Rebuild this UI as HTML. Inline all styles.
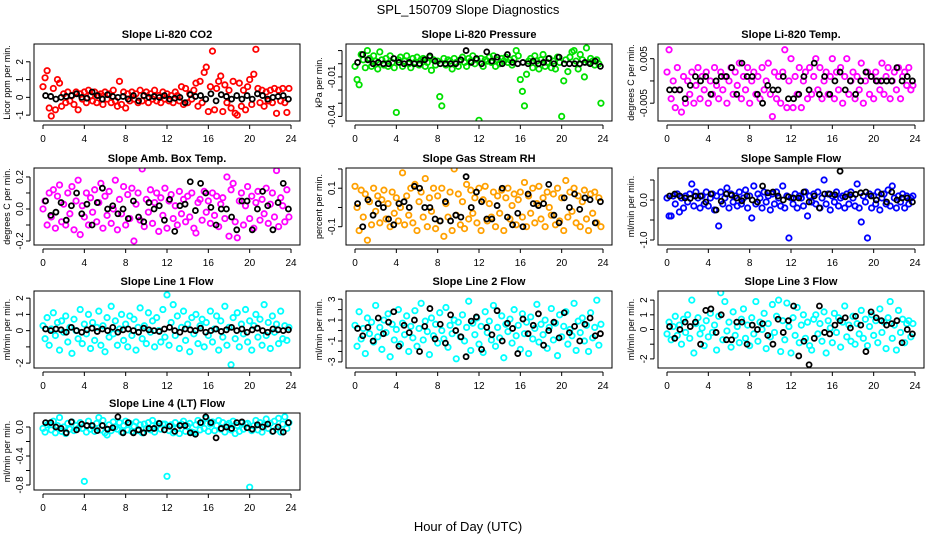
<!DOCTYPE html>
<html><head><meta charset="utf-8">
<style>
html,body{margin:0;padding:0;background:#fff;}
svg{display:block;font-family:"Liberation Sans",Arial,sans-serif;}
</style></head>
<body>
<svg id="chart" width="936" height="540" viewBox="0 0 936 540" xmlns="http://www.w3.org/2000/svg">
<text x="468" y="14" text-anchor="middle" font-size="13">SPL_150709  Slope Diagnostics</text>
<text x="468" y="531" text-anchor="middle" font-size="13">Hour of Day (UTC)</text>
<g id="panels"></g>
</svg>
<script>
const hourTicks = [0,4,8,12,16,20,24];
const panelTitles = ["Slope Li-820 CO2","Slope Li-820 Pressure","Slope Li-820 Temp.","Slope Amb. Box Temp.","Slope Gas Stream RH","Slope Sample Flow","Slope Line 1 Flow","Slope Line 2 Flow","Slope Line 3 Flow","Slope Line 4 (LT) Flow"];
const yLabels = ["Licor ppm per min.","kPa per min.","degrees C per min.","degrees C per min.","percent per min.","ml/min per min.","ml/min per min.","ml/min per min.","ml/min per min.","ml/min per min."];
const yTicks = [[-1,0,1,2],[0.01,0,-0.01,-0.02,-0.03,-0.04],[0.005,0,-0.005],[-0.2,-0.1,0,0.1,0.2],[-0.1,0,0.1,0.2],[0.5,0,-0.5,-1],[-2,-1,0,1,2],[-3,-2,-1,0,1,2,3],[-2,-1,0,1,2],[0,-0.2,-0.4,-0.6,-0.8]];
const yTickLabels = [["-1","0","1","2"],["","","-0.01","","","-0.04"],["0.005","","-0.005"],["-0.2","","0.0","","0.2"],["-0.1","","0.1",""],["","0.0","","-1.0"],["-2","","0","1","2"],["-3","","-1","","1","","3"],["-2","","0","1","2"],["0.0","","-0.4","","-0.8"]];
const yLimits = [[-1.33,3.0],[-0.0435,0.015],[-0.009,0.0083],[-0.225,0.256],[-0.195,0.205],[-1.125,0.8],[-2.3,2.44],[-3.58,3.78],[-2.62,2.62],[-0.869,0.193]];
const seriesColors = ["#ff0000","#00e000","#ff00ff","#ff00ff","#ffa000","#0000ff","#00ffff","#00ffff","#00ffff","#00ffff"];

const colored = [
[0.6,1.1,1.5,-0.6,-1.05,0.5,-0.7,1.0,0.8,-0.5,0.2,-0.3,0.3,-0.2,0.1,-0.4,0.3,-0.7,0.2,-0.1,0.3,-0.3,0.4,0.1,-0.2,0.3,-0.3,0.1,0.2,-0.4,0.3,-0.1,0.2,-0.3,0.4,-0.2,-0.5,0.9,-0.4,0.3,-0.6,0.2,-0.2,0.3,-0.1,0.2,-0.3,0.4,-0.2,0.1,0.3,-0.3,0.2,-0.1,0.4,-0.2,0.1,-0.3,0.3,-0.1,0.2,-0.2,0.1,-0.3,0.3,0.1,-0.2,0.6,-0.4,0.5,-0.3,0.2,-0.1,0.4,0.8,-0.5,0.9,-0.3,1.4,1.7,-0.8,0.6,2.6,-0.7,0.5,0.9,1.2,-0.8,0.7,-0.3,0.4,-0.6,0.9,-0.9,-1.0,0.8,-0.5,0.4,-0.7,0.6,1.0,-0.4,1.3,2.7,0.5,-0.3,0.4,-0.5,0.3,-0.2,0.4,-0.3,0.5,-0.9,0.4,-0.2,0.5,-0.3,-0.85,0.5],
[-0.002,-0.012,-0.016,0.007,0.003,-0.003,0.010,0.004,-0.002,0.006,0.002,-0.004,0.009,0.003,-0.001,0.004,-0.002,0.006,0.001,-0.003,-0.037,0.003,0.005,-0.002,0.002,0.006,0.000,-0.003,0.004,0.001,0.005,-0.001,0.003,0.004,-0.002,0.001,0.005,-0.005,0.003,-0.001,0.002,-0.025,-0.032,0.004,-0.001,0.003,0.002,-0.004,0.004,0.001,-0.002,0.003,0.005,0.001,-0.002,0.004,0.002,0.006,0.000,0.003,-0.043,0.004,-0.002,0.003,0.002,0.005,0.001,0.006,-0.002,0.003,0.000,0.004,0.002,0.005,0.001,0.003,-0.001,0.004,0.010,0.006,-0.012,-0.021,-0.032,-0.008,0.002,0.004,-0.003,0.006,0.002,-0.004,0.003,0.007,-0.002,0.001,0.004,-0.003,0.002,-0.004,0.005,0.001,-0.040,-0.013,0.003,-0.006,0.005,0.009,0.010,0.002,-0.004,0.007,0.003,-0.010,0.012,0.001,0.004,0.002,-0.001,0.003,0.000,-0.030],
[0.002,0.007,-0.004,0.000,-0.006,0.003,-0.002,-0.007,0.001,-0.005,0.000,-0.003,0.002,-0.005,-0.001,0.003,-0.004,0.001,-0.002,0.002,-0.005,0.000,-0.003,0.003,-0.001,-0.004,0.002,-0.002,0.001,-0.005,0.000,0.003,-0.003,0.002,-0.001,0.004,-0.004,0.001,-0.002,0.003,-0.005,0.000,0.002,-0.003,0.001,-0.004,0.003,-0.002,0.000,0.004,-0.003,-0.008,0.002,-0.004,0.001,-0.005,0.002,0.007,-0.006,0.000,0.005,-0.006,0.001,-0.003,0.003,-0.006,0.000,0.002,-0.004,0.003,-0.003,0.001,0.005,-0.002,0.003,-0.004,0.000,0.002,-0.003,0.001,0.005,-0.004,0.002,-0.002,0.003,-0.005,0.001,0.005,-0.003,0.000,0.002,-0.004,0.001,-0.002,0.004,-0.005,0.000,0.002,-0.003,0.001,-0.004,0.002,0.000,-0.002,0.004,-0.003,0.001,0.003,-0.004,0.000,0.002,-0.002,0.003,-0.004,0.001,0.002,-0.001,0.003,-0.002,-0.001],
[0.0,0.05,-0.1,0.1,-0.05,0.12,-0.12,0.08,0.15,-0.08,0.03,-0.1,0.1,-0.03,0.14,-0.13,0.05,0.18,-0.16,0.02,-0.05,0.1,-0.1,0.07,-0.02,0.12,-0.08,0.04,0.16,-0.12,0.08,-0.04,0.11,-0.09,0.0,0.18,-0.13,0.06,-0.03,0.14,-0.1,0.09,-0.06,0.13,-0.2,0.03,0.1,-0.07,0.25,-0.11,0.06,-0.02,0.12,-0.09,0.04,0.1,-0.14,0.07,-0.04,0.13,-0.12,0.05,0.09,-0.06,0.02,-0.1,0.11,-0.03,0.06,-0.08,0.08,-0.05,0.1,-0.12,-0.15,0.04,0.06,-0.07,0.11,-0.02,0.05,-0.09,0.1,-0.04,0.08,-0.11,0.03,0.07,-0.06,0.2,-0.17,0.12,0.16,-0.08,-0.18,0.05,0.1,-0.1,0.02,0.14,-0.06,0.08,-0.12,0.04,0.11,-0.07,0.06,-0.03,0.13,-0.09,0.03,0.1,-0.05,0.24,-0.11,0.07,0.02,-0.08,0.12,-0.05],
[0.11,0.0,-0.12,0.09,-0.05,0.07,-0.17,0.03,-0.09,0.1,-0.02,0.06,-0.08,0.04,0.09,-0.06,0.02,-0.1,0.08,-0.03,0.05,-0.07,0.0,0.18,-0.09,0.06,-0.04,0.1,-0.08,0.12,-0.12,0.03,0.08,-0.05,0.15,-0.1,0.05,-0.02,0.1,-0.11,0.06,-0.07,0.1,-0.15,0.02,-0.05,0.08,-0.12,0.2,-0.04,0.07,-0.09,0.03,-0.11,0.12,-0.06,0.09,-0.03,0.05,-0.08,0.1,-0.12,0.04,0.11,-0.07,0.02,-0.05,0.08,-0.1,0.06,-0.03,0.09,-0.12,0.05,0.1,-0.06,0.01,0.07,-0.09,0.04,0.08,-0.05,0.13,-0.1,0.06,-0.03,0.1,-0.08,0.02,0.11,-0.06,0.05,-0.1,0.08,0.0,-0.04,0.07,-0.09,0.1,-0.07,0.05,-0.12,0.14,-0.05,0.08,-0.02,0.1,-0.08,0.06,-0.1,0.03,0.09,-0.06,-0.12,0.07,-0.03,0.08,-0.08,0.05,-0.1],
[0.05,-0.4,-0.4,0.1,-0.1,0.15,-0.3,0.05,-0.2,0.1,-0.05,0.15,0.4,-0.15,0.2,0.05,-0.2,0.1,-0.1,0.2,-0.15,0.05,0.15,-0.25,0.1,-0.65,0.2,-0.1,0.05,0.3,-0.2,0.15,-0.05,0.1,-0.15,0.2,-0.1,0.05,0.25,-0.2,0.1,-0.45,0.35,-0.1,0.15,0.05,-0.2,0.2,-0.05,0.1,-0.25,0.15,-0.1,0.2,0.05,-0.15,0.35,-0.2,0.1,-0.95,0.05,-0.1,0.15,-0.2,0.1,0.05,-0.15,0.2,-0.4,0.1,-0.05,0.15,-0.1,0.2,-0.2,0.05,0.5,-0.1,0.15,-0.25,0.1,-0.05,0.2,-0.15,0.05,0.1,-0.2,0.15,-0.1,0.2,0.05,-0.15,0.4,-0.2,-0.55,0.1,-0.05,-0.95,0.15,-0.2,0.1,-0.1,0.2,-0.25,0.05,0.15,-0.1,0.25,-0.15,0.35,0.05,-0.2,0.1,-0.05,0.15,-0.2,0.1,-0.1,0.05,0.1],
[0.3,-0.5,0.8,-0.9,0.1,1.1,-0.3,0.5,-1.2,0.6,-0.1,0.9,-0.7,0.2,-1.4,0.7,0.0,-0.5,1.3,-0.8,0.4,-0.2,1.0,-1.1,0.5,-0.6,0.2,1.2,-0.9,0.3,-1.3,0.8,-0.4,1.5,-0.2,0.6,-0.9,0.1,1.0,-0.6,0.4,-1.0,0.9,-0.3,0.7,-1.2,0.2,1.4,-0.5,0.3,-0.8,1.1,-0.1,0.6,-1.0,0.8,0.0,-0.7,1.3,-0.4,2.2,-0.9,0.5,1.6,-0.3,0.9,-1.1,0.2,1.2,-0.6,0.4,-1.3,0.8,-0.2,1.0,-0.8,0.3,0.7,-1.0,0.5,-0.3,1.2,-0.7,0.1,0.9,-1.2,0.6,-0.4,1.5,-0.9,0.2,-2.1,0.8,-0.5,1.1,-1.0,0.4,-0.2,1.3,-0.7,0.6,-1.2,0.3,1.0,-0.4,0.7,-0.9,1.6,-0.3,0.5,-1.1,0.9,-0.1,0.4,-0.8,1.2,-0.5,0.3,-0.6,0.2],
[0.5,-1.5,1.8,-0.8,0.2,-2.2,1.2,-0.3,0.8,-1.1,2.4,-0.6,0.3,-1.8,1.0,-0.2,1.6,-2.5,0.6,-0.9,0.1,2.0,-1.3,0.7,-0.4,1.4,-2.0,0.4,-0.7,1.9,-1.5,0.2,2.6,-0.9,0.9,-0.1,-2.3,1.2,-0.5,0.6,-1.2,1.7,0.0,-0.8,2.2,-1.6,0.5,-0.3,1.0,-2.7,0.8,-0.6,1.5,-1.0,0.3,2.8,-1.9,0.7,-0.4,1.2,-1.3,0.4,-2.1,1.8,-0.2,0.9,-0.9,2.4,-1.5,0.3,-0.7,1.4,-2.6,0.6,-0.1,1.1,-1.2,2.0,-0.5,0.5,-1.8,1.6,-0.3,0.8,-2.2,1.3,-0.8,0.2,2.5,-1.1,0.6,-0.4,1.0,-1.7,0.3,2.1,-0.9,0.7,-2.4,1.5,-0.6,0.4,1.8,-1.3,0.1,-0.5,2.6,-1.9,0.9,-0.2,1.2,-1.0,0.5,-2.0,1.7,-0.7,0.3,2.9,-1.4,0.6],
[-0.3,0.5,-0.7,0.2,0.9,-0.4,0.3,-1.0,0.7,-0.2,1.0,-0.6,2.0,-1.6,0.4,0.8,-0.3,0.1,-1.1,0.6,-0.5,1.1,-0.2,0.3,-1.4,0.9,2.5,-0.7,1.9,-0.1,0.5,-1.2,1.2,-0.4,0.2,-0.9,0.7,1.4,-0.6,0.3,-1.1,0.8,-0.3,1.9,-0.8,0.5,0.0,1.1,-1.3,0.4,-0.5,1.7,-0.2,0.9,2.0,-1.5,0.6,-0.7,1.8,0.2,-1.6,0.8,-0.4,1.5,-0.9,0.3,1.0,-0.6,0.5,-1.1,-1.4,0.7,1.0,-0.3,0.4,-0.8,1.2,-1.6,0.6,0.1,-0.9,1.1,-0.2,0.8,-1.2,0.5,1.6,-0.5,0.3,-0.8,0.9,-1.0,0.4,-0.3,1.3,-0.6,0.7,-1.1,0.2,1.0,-0.4,0.6,-0.9,1.4,-0.2,0.5,-1.3,0.8,1.9,-0.6,0.3,-1.4,1.3,-0.2,0.7,-0.9,0.4,0.6,-0.5,0.4],
[-0.02,-0.07,0.03,0.05,-0.04,0.08,-0.08,0.02,0.13,-0.06,0.0,-0.09,0.05,-0.03,0.07,-0.05,0.02,-0.02,0.06,-0.02,-0.75,-0.07,0.08,-0.03,0.01,-0.06,0.05,0.13,-0.04,0.09,-0.08,-0.11,0.03,-0.05,0.07,0.0,-0.03,0.06,-0.07,0.02,0.08,-0.04,0.05,-0.06,0.01,0.07,-0.05,0.03,-0.08,0.04,-0.02,0.06,-0.04,0.09,-0.07,0.02,0.05,-0.03,0.04,0.04,-0.68,-0.05,0.03,-0.08,0.06,-0.02,-0.09,0.04,0.08,-0.06,0.01,0.05,-0.07,-0.08,0.03,0.09,-0.04,0.06,-0.02,0.12,-0.06,0.04,0.07,-0.05,0.02,0.09,-0.03,0.06,-0.07,0.03,0.05,-0.04,0.08,-0.09,0.02,-0.06,0.06,-0.03,0.04,0.05,-0.83,-0.05,0.02,0.09,-0.04,0.06,-0.07,0.03,0.11,-0.02,0.05,-0.06,0.08,-0.03,0.12,-0.07,0.04,0.14,-0.02,0.06]
];
const hourly = [
[0.1,0.05,-0.1,0.0,0.05,0.1,0.2,0.0,-0.05,0.3,0.1,-0.1,0.15,0.05,0.0,0.05,-0.1,0.1,-0.2,0.1,0.0,0.05,0.0,0.1,-0.1,-0.05,0.0,-0.3,0.15,0.05,0.1,-0.1,0.2,-0.2,0.15,0.05,-0.1,0.1,-0.1,0.1,-0.1,0.2,0.1,-0.1,0.0,0.05,0.1,-0.1],
[0.001,0.007,0.003,0.000,0.001,0.000,0.000,0.004,0.001,0.000,0.001,0.000,0.000,0.003,0.006,0.002,0.000,0.000,0.000,0.000,0.003,0.010,0.001,0.004,0.000,0.009,0.002,0.005,0.000,0.007,0.001,0.000,0.001,0.000,0.002,0.000,0.001,0.004,0.000,0.005,0.000,0.000,0.000,0.000,0.001,0.000,0.002,-0.002],
[-0.002,-0.002,-0.002,-0.004,-0.001,0.001,0.000,0.001,-0.003,0.000,0.001,0.001,0.003,-0.003,0.004,0.001,0.001,-0.003,-0.005,-0.001,-0.002,-0.002,0.001,-0.004,-0.004,-0.003,0.001,-0.002,0.004,-0.003,0.001,-0.003,0.000,0.002,-0.002,0.000,-0.003,0.000,0.002,0.001,0.000,0.000,0.000,0.000,0.003,0.000,0.001,0.000],
[0.05,-0.04,-0.02,0.04,-0.07,0.02,0.1,-0.03,0.03,-0.1,0.04,0.13,0.0,0.02,-0.03,0.0,-0.06,0.05,-0.05,-0.08,0.04,0.0,0.02,-0.07,0.06,-0.14,0.02,0.03,0.17,-0.01,0.16,0.1,0.01,-0.1,0.0,0.0,-0.05,-0.13,0.05,0.05,-0.13,0.0,0.11,0.02,-0.13,0.04,0.16,0.0],
[0.02,-0.1,0.04,-0.04,0.02,0.0,-0.06,-0.09,0.02,0.03,0.0,0.11,0.1,0.0,0.0,-0.06,-0.07,0.03,-0.07,-0.04,-0.05,0.16,0.0,0.08,0.03,-0.06,-0.06,0.01,0.1,-0.05,-0.09,-0.03,-0.1,0.07,0.02,0.01,0.02,0.12,-0.04,-0.08,0.05,0.0,0.07,-0.01,0.05,0.04,-0.08,0.03],
[0.1,0.15,0.1,0.05,0.04,0.1,0.1,-0.05,0.15,-0.25,-0.03,0.15,0.12,0.05,-0.02,0.1,0.0,-0.05,0.35,0.18,0.2,0.1,0.0,0.08,0.05,0.05,0.2,-0.05,0.1,-0.2,0.15,0.15,0.13,0.72,0.08,0.13,0.14,0.18,0.2,0.1,0.0,0.15,-0.05,0.2,0.0,0.05,0.05,-0.05],
[0.1,0.0,0.1,0.05,-0.1,0.2,0.0,-0.1,0.05,0.15,-0.05,0.1,0.0,0.2,-0.1,0.05,0.1,0.0,-0.1,0.15,0.05,0.0,-0.05,0.1,0.2,0.0,-0.1,0.1,0.05,0.0,0.15,-0.1,0.0,0.1,-0.05,0.05,0.2,0.0,0.1,-0.1,0.05,0.15,0.0,-0.1,0.1,0.05,0.0,0.05],
[0.2,-0.5,0.3,-1.0,1.2,-0.3,0.8,1.8,-1.5,0.5,-0.2,1.0,-2.0,0.4,2.1,-0.8,0.6,-1.2,1.5,0.0,-0.6,-2.5,0.9,1.3,-1.8,0.3,-0.4,1.9,-1.0,0.7,0.2,-2.2,1.1,-0.3,0.5,1.6,-1.4,0.0,0.8,-0.7,1.7,-0.2,0.4,-1.0,0.6,1.2,-0.5,-0.3],
[0.2,-0.6,0.0,0.5,0.2,0.5,-1.0,1.3,1.4,-0.2,1.0,-0.7,-0.7,0.5,0.5,-1.0,0.3,0.0,0.4,-0.4,-1.0,0.7,-0.2,0.6,1.6,-1.8,-0.8,-2.4,-0.6,1.6,-0.2,-0.3,0.3,0.6,0.8,0.1,0.9,0.3,-1.5,1.2,0.8,0.6,0.3,0.4,0.6,-0.9,0.0,-0.3],
[0.06,0.06,0.0,-0.02,-0.08,0.07,-0.04,0.04,0.02,0.02,-0.05,0.02,-0.03,-0.01,0.14,-0.08,0.06,-0.08,-0.04,-0.08,-0.02,-0.02,0.05,-0.04,0.01,-0.06,0.02,0.02,-0.08,-0.1,0.06,0.14,0.06,-0.15,-0.02,0.0,-0.02,0.06,0.07,-0.01,-0.03,0.03,0.0,0.04,-0.06,0.0,-0.07,0.06]
];

const NS = "http://www.w3.org/2000/svg";
const root = document.getElementById("panels");
function mk(tag, attrs, parent){ const e=document.createElementNS(NS,tag); for(const k in attrs) e.setAttribute(k,attrs[k]); parent.appendChild(e); return e; }
const colLeft=[34,346,658], rowTop=[44,168,291,413], boxW=266, boxH=77;

panelTitles.forEach((title,p)=>{
  const bx=colLeft[p%3], by=rowTop[Math.floor(p/3)];
  const g=mk("g",{},root);
  
  
  const xs=h=>bx+9+h*(boxW-18)/24;
  const [y0,y1]=yLimits[p];
  const ys=v=>by+boxH-(v-y0)/(y1-y0)*boxH;
  const cid="clip"+p;
  const cp=mk("clipPath",{id:cid},g); mk("rect",{x:bx,y:by,width:boxW,height:boxH},cp);
  const pts=mk("g",{"clip-path":"url(#"+cid+")"},g);
  const cs=colored[p];
  cs.forEach((v,i)=>{
    const c=mk("circle",{cx:xs(i*24/cs.length),cy:ys(v),r:2.7,fill:"none",stroke:seriesColors[p],"stroke-width":1.8},pts);
    
    
  });
  const hs=hourly[p];
  hs.forEach((v,i)=>{
    const c=mk("circle",{cx:xs(0.25+i*24/hs.length),cy:ys(v),r:2.5,fill:"none",stroke:"#000","stroke-width":1.8},pts);
    
    
  });
  const box=mk("rect",{x:bx,y:by,width:boxW,height:boxH,fill:"none",stroke:"#000","stroke-width":1},g);
  
  
  const t=mk("text",{x:bx+boxW/2,y:by-6,"text-anchor":"middle","font-size":11,"font-weight":"bold"},g);
  t.textContent=title;
  
  
  const xa=mk("g",{},g);
  
  
  mk("line",{x1:xs(0),x2:xs(24),y1:by+boxH+4,y2:by+boxH+4,stroke:"#000"},xa);
  hourTicks.forEach(h=>{
    mk("line",{x1:xs(h),x2:xs(h),y1:by+boxH+4,y2:by+boxH+8,stroke:"#000"},xa);
    const tl=mk("text",{x:xs(h),y:by+boxH+21,"text-anchor":"middle","font-size":10},xa); tl.textContent=h;
  });
  const ya=mk("g",{},g);
  
  
  const tv=yTicks[p];
  const ymin=Math.min(...tv), ymax=Math.max(...tv);
  mk("line",{x1:bx-4,x2:bx-4,y1:ys(ymin),y2:ys(ymax),stroke:"#000"},ya);
  tv.forEach((v,i)=>{
    mk("line",{x1:bx-8,x2:bx-4,y1:ys(v),y2:ys(v),stroke:"#000"},ya);
    const lab=yTickLabels[p][i];
    if(lab){ const tl=mk("text",{x:0,y:0,"text-anchor":"middle","font-size":10,transform:"translate("+(bx-11)+","+ys(v)+") rotate(-90)"},ya); tl.textContent=lab; }
  });
  const yl=mk("text",{x:0,y:0,"text-anchor":"middle","font-size":9,transform:"translate("+(bx-24)+","+(by+boxH/2)+") rotate(-90)"},g);
  yl.textContent=yLabels[p];
  
  
});
</script>
</body></html>
